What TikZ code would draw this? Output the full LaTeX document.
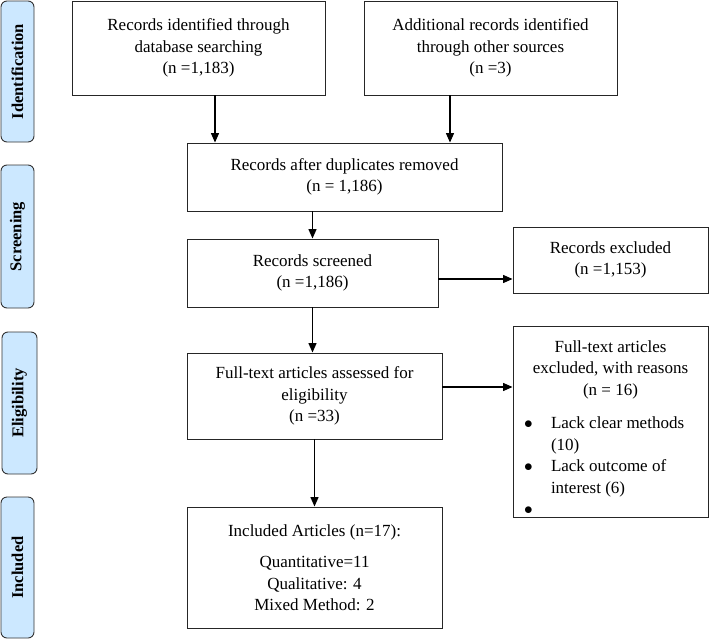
\documentclass[tikz,border=0pt]{standalone}
\usepackage{fontspec}
\setmainfont{Liberation Serif}
\usepackage{graphicx}
\usepackage{tikz}
\usetikzlibrary{shapes.geometric, arrows.meta}
\definecolor{stageblue}{RGB}{204,232,255}
\tikzstyle{process} = [rectangle, draw=black!85, line width=0.9pt, align=center, inner sep=2pt, font=\fontsize{17}{21.5}\selectfont]
\tikzstyle{stage} = [rectangle, rounded corners=6pt, draw=black!80, line width=0.9pt, fill=stageblue, minimum width=33pt, inner sep=0pt, font=\fontsize{16.5}{20}\selectfont\bfseries]
\tikzstyle{arrow} = [line width=1.3pt,->,>={Triangle[length=9.5pt,width=8pt]}]

\begin{document}
\begin{tikzpicture}[x=1pt, y=1pt, node distance=96pt]
   \useasboundingbox (0,0) rectangle (709,-640);
   % stages on the left
   \node (ident) [stage, minimum height=141pt] at (17.5,-71.5) {\rotatebox{90}{Identification}};
   \node (screen) [stage, minimum height=143pt, node distance=165pt, below of=ident] {\rotatebox{90}{Screening}};
   \node (elig) [stage, minimum height=142pt, minimum width=35pt, node distance=166.5pt, below of=screen, xshift=2pt] {\rotatebox{90}{Eligibility}};
   \node (incl) [stage, minimum height=141pt, node distance=164.5pt, below of=elig, xshift=-2pt] {\rotatebox{90}{Included}};
   % flow boxes
   \node (db) [process, minimum width=253pt, minimum height=94pt] at (198.5,-48) {Records identified through\\ database searching\\ (n =1,183)};
   \node (other) [process, minimum width=253pt, minimum height=94pt, node distance=292pt, right of=db] {Additional records identified\\ through other sources\\ (n =3)};
   \node (dup) [process, minimum width=315pt, minimum height=68pt, node distance=129pt, below of=db, xshift=146pt] {Records after duplicates removed\\ (n = 1,186)};
   \node (scr) [process, minimum width=251pt, minimum height=68pt, below of=dup, xshift=-32pt] {Records screened\\ (n =1,186)};
   \node (exc) [process, minimum width=195pt, minimum height=66pt, node distance=298pt, right of=scr, yshift=13pt] {Records excluded\\ (n =1,153)};
   \node (full) [process, minimum width=255pt, minimum height=86pt, node distance=123pt, below of=scr, xshift=2pt] {Full-text articles assessed for\\ eligibility\\ (n =33)};
   \node (fexc) [process, minimum width=195pt, minimum height=191pt, inner sep=0pt, node distance=296pt, right of=full, yshift=-25.5pt] {\parbox[c][191pt][t]{195pt}{%
      {\centering\rule{0pt}{26pt}Full-text articles\\ excluded, with reasons\\ (n = 16)\par}
      \vspace{12pt}
      \begin{tabular}[t]{@{\hspace{11pt}}l@{}l@{}}
         \makebox[27pt][l]{$\bullet$} & Lack clear methods\\
          & (10)\\
         $\bullet$ & Lack outcome of\\
          & interest (6)\\
         $\bullet$ &
      \end{tabular}}};
   \node (incart) [process, minimum width=255pt, minimum height=121pt, node distance=171.5pt, below of=full] {Included Articles (n=17):\\[10pt] Quantitative=11\\ Qualitative: 4\\ Mixed Method: 2};
   % arrows
   \coordinate (dbout) at ([xshift=16.5pt]db.south);
   \coordinate (otherout) at ([xshift=-40.5pt]other.south);
   \coordinate (scrout) at ([yshift=-6pt]scr.east);
   \coordinate (fullout) at ([yshift=9pt]full.east);
   \draw [arrow] (dbout) -- (dbout |- dup.north);
   \draw [arrow] (otherout) -- (otherout |- dup.north);
   \draw [arrow] (dup.south -| scr.north) -- (scr.north);
   \draw [arrow] (scrout) -- (scrout -| exc.west);
   \draw [arrow] (scr.south) -- (scr.south |- full.north);
   \draw [arrow] (fullout) -- (fullout -| fexc.west);
   \draw [arrow] (full.south) -- (incart.north);
\end{tikzpicture}
\end{document}
